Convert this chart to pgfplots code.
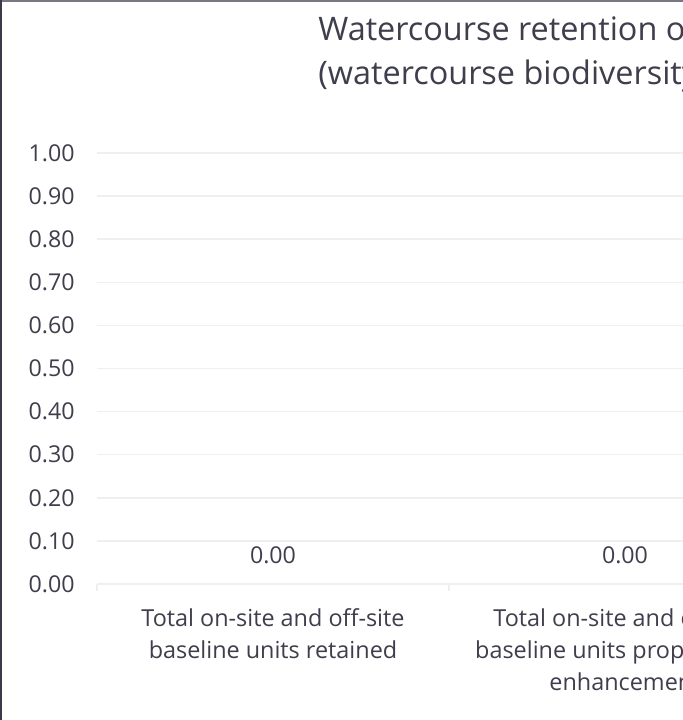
\documentclass[border=0pt]{standalone}
\usepackage{fontspec}
\setmainfont{Open Sans}[Ligatures=NoCommon]
\usepackage{pgfplots}
\pgfplotsset{compat=1.18}
\definecolor{txt}{RGB}{62,62,76}
\definecolor{grd}{RGB}{236,240,240}
\definecolor{frm}{RGB}{58,58,74}
\definecolor{frmtop}{RGB}{120,120,132}
\begin{document}
\begin{tikzpicture}
\begin{scope}
\clip (0,0) rectangle (341.5pt,360pt);
\fill[white] (0,0) rectangle (341.5pt,360pt);
% chart frame (only left and top edges are inside the crop)
\draw[frmtop, line width=1pt] (0,359.5pt) -- (341.5pt,359.5pt);
\draw[frm, line width=1.2pt] (0.6pt,0) -- (0.6pt,360pt);
% title
\node[anchor=base west, text=txt, font=\fontsize{16.2}{20}\selectfont, inner sep=0pt]
  at (159pt,340pt) {Watercourse retention of baseline};
\node[anchor=base west, text=txt, font=\fontsize{16.2}{20}\selectfont, inner sep=0pt]
  at (159pt,318pt) {(watercourse biodiversity units)};
\begin{axis}[
    scale only axis,
    width=352pt, height=215.5pt,
    at={(48.5pt,68pt)}, anchor=south west,
    xmin=-0.5, xmax=1.5, ymin=0, ymax=1,
    axis line style={draw=none},
    tick pos=left,
    major tick length=0pt,
    ymajorgrids,
    grid style={grd, line width=0.75pt},
    ytick={0,0.1,0.2,0.3,0.4,0.5,0.6,0.7,0.8,0.9,1},
    scaled y ticks=false,
    yticklabel style={text=txt, font=\fontsize{11.6}{14}\selectfont, inner sep=0pt, xshift=-11pt,
      /pgf/number format/fixed, /pgf/number format/zerofill,
      /pgf/number format/precision=2, /pgf/number format/assume math mode=true},
    xtick={0,1},
    xticklabels={{Total on-site and off-site\\baseline units retained},
                 {Total on-site and off-site\\baseline units proposed for\\enhancement}},
    xticklabel style={text=txt, font=\fontsize{11.7}{16}\selectfont, align=center,
      anchor=north, inner sep=0pt, yshift=-12pt},
    extra x ticks={-0.5,0.5,1.5},
    extra x tick labels={},
    extra x tick style={tick align=outside, major tick length=3.5pt,
      major tick style={draw=grd, line width=0.75pt}},
    clip=false,
]
\addplot[ybar, bar width=100pt, draw=none, fill=none,
    nodes near coords, point meta=y,
    every node near coord/.append style={anchor=center, yshift=14.5pt, text=txt,
      font=\fontsize{11.6}{14}\selectfont,
      /pgf/number format/fixed, /pgf/number format/zerofill,
      /pgf/number format/precision=2, /pgf/number format/assume math mode=true}]
  coordinates {(0,0) (1,0)};
\end{axis}
\end{scope}
\pgfresetboundingbox
\useasboundingbox (0,0) rectangle (341.5pt,360pt);
\end{tikzpicture}
\end{document}
